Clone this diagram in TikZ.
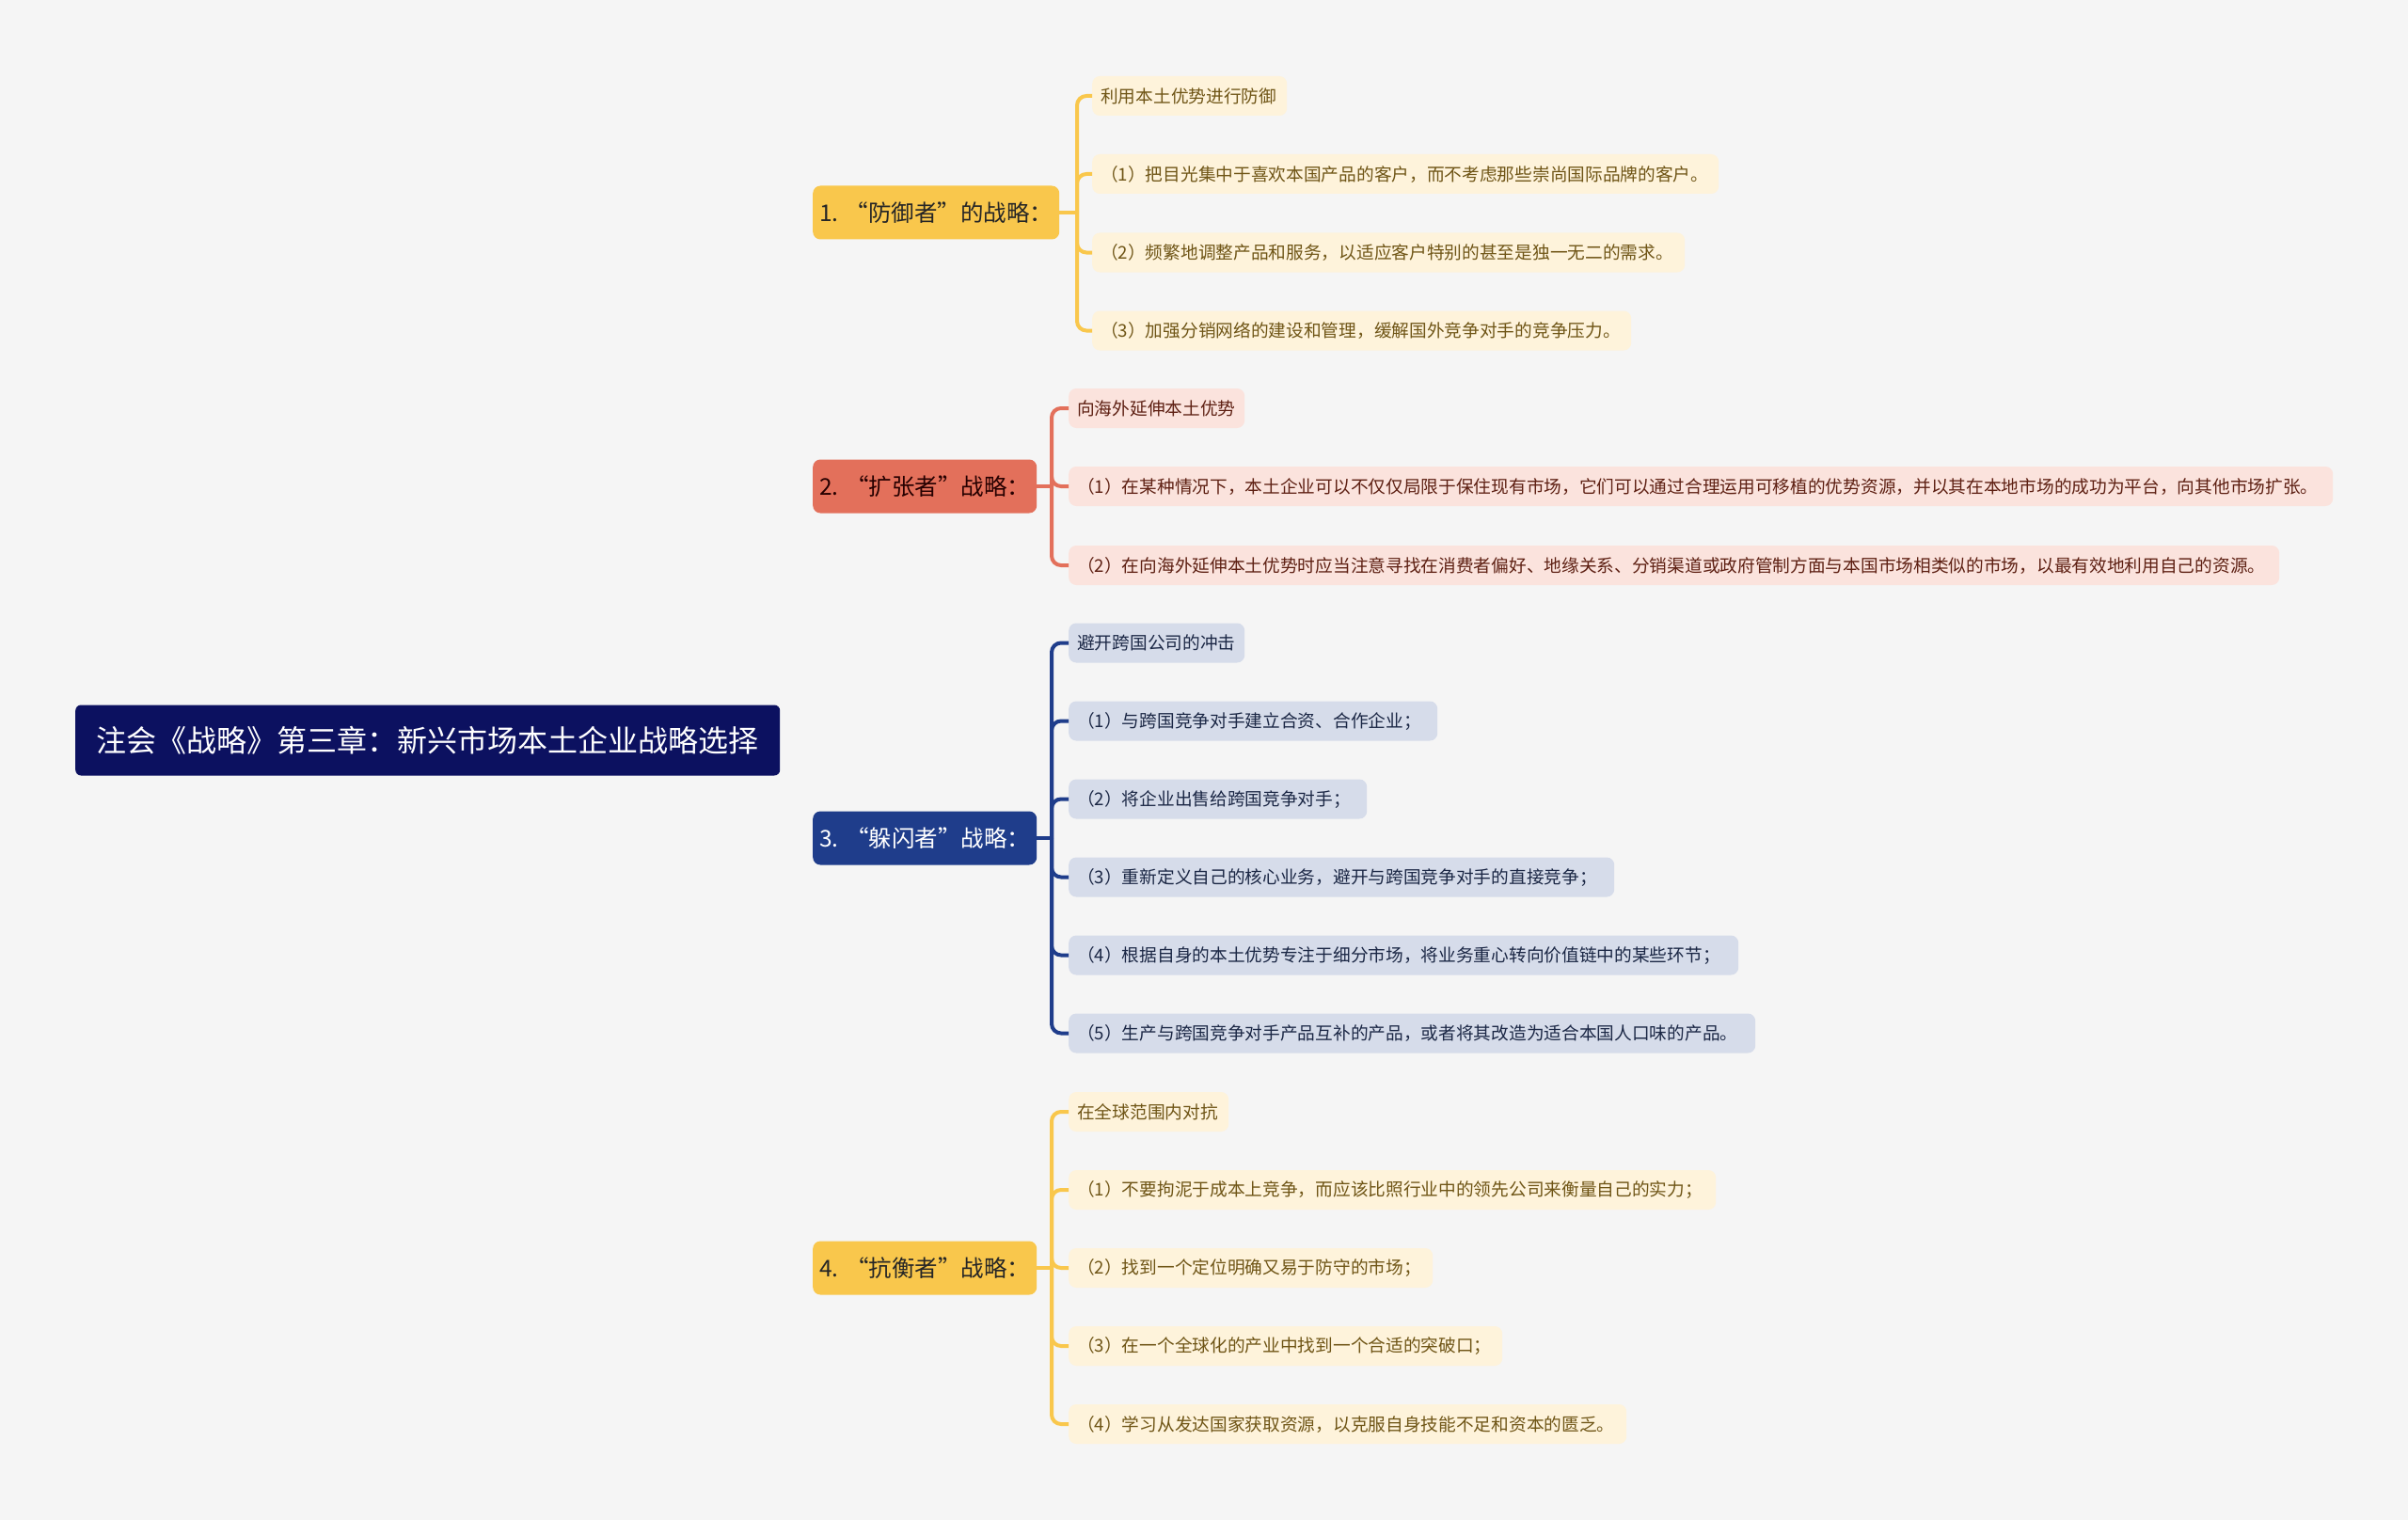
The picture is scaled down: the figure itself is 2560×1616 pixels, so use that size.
\documentclass[tikz,border=0pt]{standalone}
\usepackage{fontspec}
\setmainfont{Noto Sans CJK SC}
\usetikzlibrary{backgrounds}

\definecolor{bgcol}{HTML}{F5F5F5}
\definecolor{rootblue}{HTML}{0C1160}
\definecolor{ylw}{HTML}{F9C74C}
\definecolor{redb}{HTML}{E3705B}
\definecolor{navy}{HTML}{1F3D8B}
\definecolor{ylwleaf}{HTML}{FEF3DB}
\definecolor{redleaf}{HTML}{FBE3DD}
\definecolor{navyleaf}{HTML}{D6DCEA}
\definecolor{ylwtext}{HTML}{6F5516}
\definecolor{redtext}{HTML}{5E2013}
\definecolor{navytext}{HTML}{1B2745}

\begin{document}
\begin{tikzpicture}[x=1pt, y=-1pt,
  rootbox/.style={rectangle, rounded corners=6pt, fill=rootblue, text=white, minimum height=75pt, minimum width=749pt, inner sep=0pt, anchor=west, font=\fontsize{32}{38}\selectfont},
  branch/.style={rectangle, rounded corners=8pt, minimum height=57pt, inner sep=0pt, anchor=west, font=\fontsize{24.5}{30}\selectfont},
  leaf/.style={rectangle, rounded corners=8pt, minimum height=42pt, inner xsep=9pt, inner ysep=0pt, anchor=west, align=left, font=\fontsize{18.7}{22}\selectfont},
  link/.style={line width=4pt, rounded corners=10pt},
]

% Branch and leaf looks
\tikzset{
  brYlw/.style={branch, fill=ylw, text=black!85},
  brRed/.style={branch, fill=redb, text=black!85!red},
  brNavy/.style={branch, fill=navy, text=white},
  lfYlw/.style={leaf, fill=ylwleaf, text=ylwtext},
  lfRed/.style={leaf, fill=redleaf, text=redtext},
  lfNavy/.style={leaf, fill=navyleaf, text=navytext},
}

\fill[bgcol] (0,0) rectangle (2560,1616);
\useasboundingbox (0,0) rectangle (2560,1616);

% =========================
% Root and main branches
% =========================
\node[rootbox] (root) at (80,787) {注会《战略》第三章：新兴市场本土企业战略选择};

\node[brYlw,  minimum width=262pt] (b1) at (864,226)  {1. “防御者”的战略：};
\node[brRed,  minimum width=238pt] (b2) at (864,517)  {2. “扩张者”战略：};
\node[brNavy, minimum width=238pt] (b3) at (864,891)  {3. “躲闪者”战略：};
\node[brYlw,  minimum width=238pt] (b4) at (864,1348) {4. “抗衡者”战略：};

\coordinate (rj) at (847,787);
\begin{pgfonlayer}{background}
  \draw[link, ylw]  (root.east) -- (rj);
  \draw[link, ylw]  (rj) |- (b1.west);
  \draw[link, redb] (rj) |- (b2.west);
  \draw[link, navy] (rj) |- (b3.west);
  \draw[link, ylw]  (rj) |- (b4.west);
\end{pgfonlayer}

% =========================
% 1. defender
% =========================
\coordinate (j1) at (1145,226);
\draw[link, ylw] (b1.east) -- (j1);
\foreach \i/\y/\tw/\t in {
  1/102/189/利用本土优势进行防御,
  2/185/648/（1）把目光集中于喜欢本国产品的客户，而不考虑那些崇尚国际品牌的客户。,
  3/268.5/612/（2）频繁地调整产品和服务，以适应客户特别的甚至是独一无二的需求。,
  4/351.5/555/（3）加强分销网络的建设和管理，缓解国外竞争对手的竞争压力。} {
  \node[lfYlw, text width=\tw pt] (a\i) at (1161,\y) {\t};
  \draw[link, ylw] (j1) |- (a\i.west);
}

% =========================
% 2. expander
% =========================
\coordinate (j2) at (1118,517);
\draw[link, redb] (b2.east) -- (j2);
\foreach \i/\y/\tw/\t in {
  1/434/169/向海外延伸本土优势,
  2/517/1326/（1）在某种情况下，本土企业可以不仅仅局限于保住现有市场，它们可以通过合理运用可移植的优势资源，并以其在本地市场的成功为平台，向其他市场扩张。,
  3/601/1269/（2）在向海外延伸本土优势时应当注意寻找在消费者偏好、地缘关系、分销渠道或政府管制方面与本国市场相类似的市场，以最有效地利用自己的资源。} {
  \node[lfRed, text width=\tw pt] (e\i) at (1136,\y) {\t};
  \draw[link, redb] (j2) |- (e\i.west);
}

% =========================
% 3. dodger
% =========================
\coordinate (j3) at (1118,891);
\draw[link, navy] (b3.east) -- (j3);
\foreach \i/\y/\tw/\t in {
  1/683.5/169/避开跨国公司的冲击,
  2/766.5/374/（1）与跨国竞争对手建立合资、合作企业；,
  3/849.5/299/（2）将企业出售给跨国竞争对手；,
  4/932.5/562/（3）重新定义自己的核心业务，避开与跨国竞争对手的直接竞争；,
  5/1015.5/694/（4）根据自身的本土优势专注于细分市场，将业务重心转向价值链中的某些环节；,
  6/1098.5/712/（5）生产与跨国竞争对手产品互补的产品，或者将其改造为适合本国人口味的产品。} {
  \node[lfNavy, text width=\tw pt] (d\i) at (1136,\y) {\t};
  \draw[link, navy] (j3) |- (d\i.west);
}

% =========================
% 4. contender
% =========================
\coordinate (j4) at (1118,1348);
\draw[link, ylw] (b4.east) -- (j4);
\foreach \i/\y/\tw/\t in {
  1/1182/152/在全球范围内对抗,
  2/1265/670/（1）不要拘泥于成本上竞争，而应该比照行业中的领先公司来衡量自己的实力；,
  3/1348/369/（2）找到一个定位明确又易于防守的市场；,
  4/1431/443/（3）在一个全球化的产业中找到一个合适的突破口；,
  5/1514/575/（4）学习从发达国家获取资源，以克服自身技能不足和资本的匮乏。} {
  \node[lfYlw, text width=\tw pt] (c\i) at (1136,\y) {\t};
  \draw[link, ylw] (j4) |- (c\i.west);
}

\end{tikzpicture}
\end{document}
